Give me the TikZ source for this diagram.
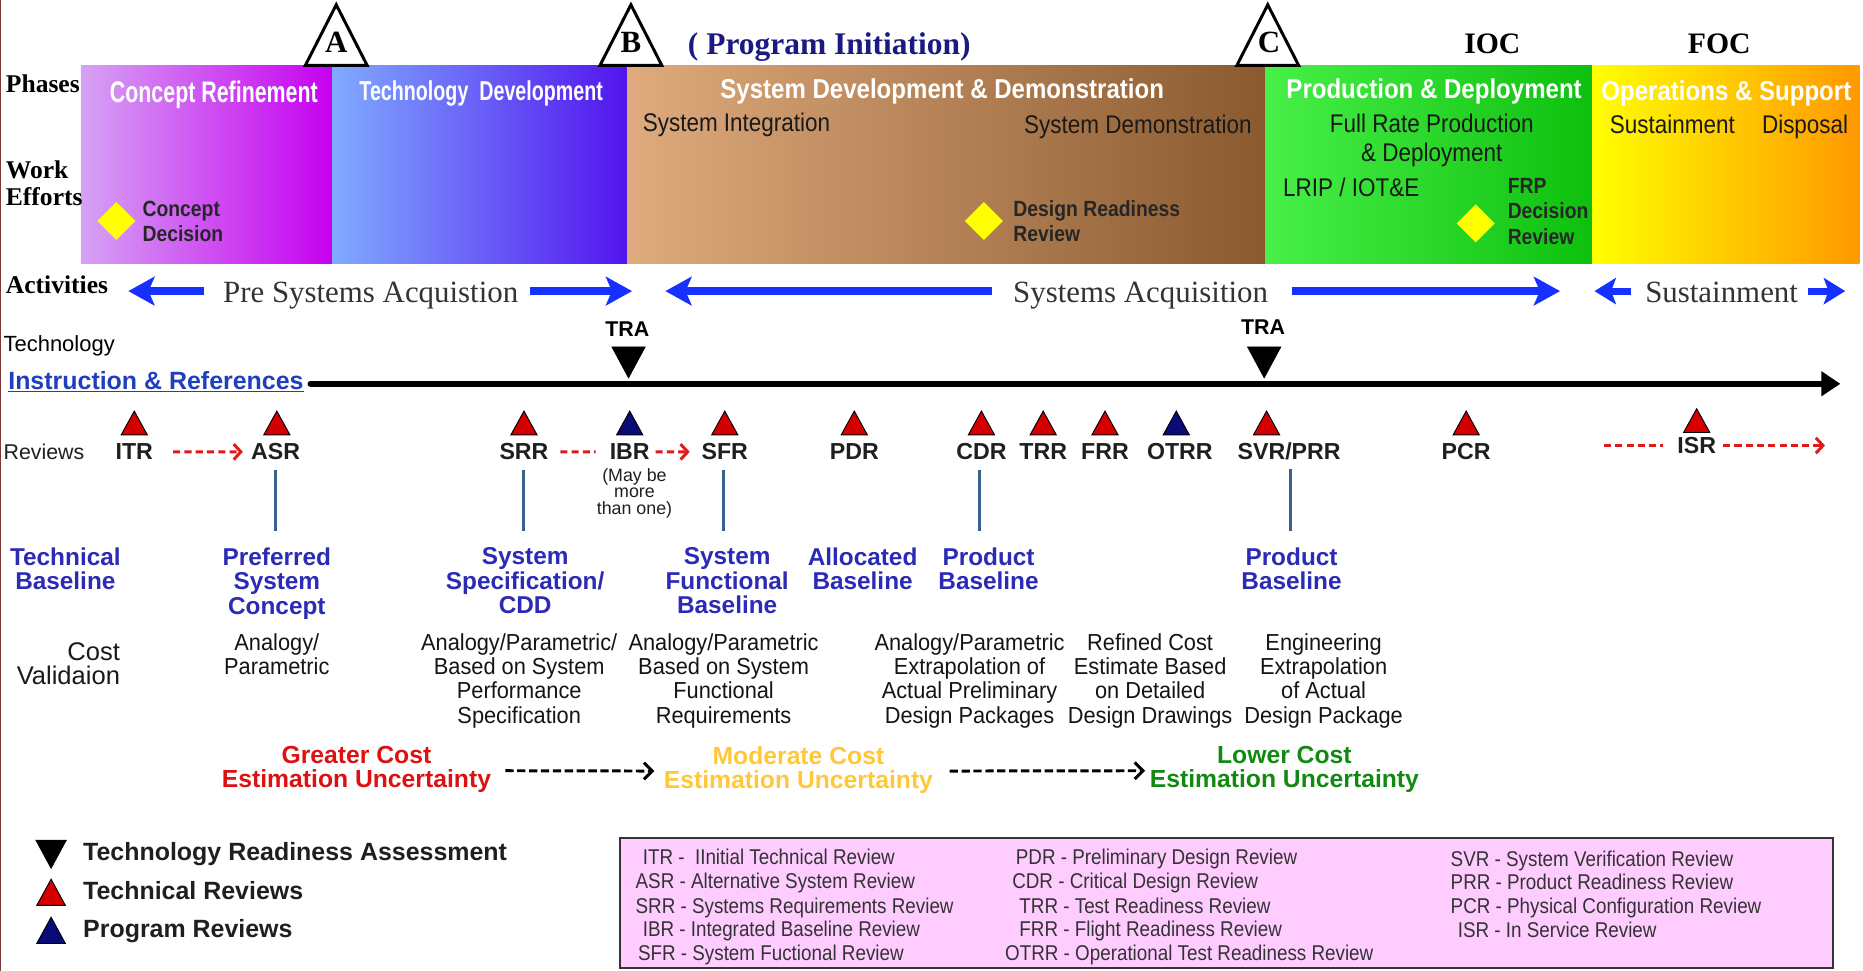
\documentclass[tikz,border=0pt]{standalone}
\usepackage{fontspec}
\setmainfont{Liberation Serif}
\setsansfont{Liberation Sans}
\newfontfamily\nar[FakeStretch=0.88]{Liberation Sans}
\newfontfamily\narm[FakeStretch=0.94]{Liberation Sans}
\newfontfamily\narx[FakeStretch=0.72]{Liberation Sans}
\usetikzlibrary{arrows.meta,shapes.geometric}
\definecolor{crL}{HTML}{D6A2F4}
\definecolor{crR}{HTML}{C600F0}
\definecolor{tdL}{HTML}{80AAFF}
\definecolor{tdR}{HTML}{5214EE}
\definecolor{sdL}{HTML}{DEAA7E}
\definecolor{sdR}{HTML}{8A5A2E}
\definecolor{pdL}{HTML}{48F048}
\definecolor{pdR}{HTML}{0EC00E}
\definecolor{osL}{HTML}{FFFF00}
\definecolor{osR}{HTML}{FF9800}
\definecolor{dyellow}{HTML}{FFFF00}
\definecolor{actblue}{HTML}{1530FF}
\definecolor{baseblue}{HTML}{2B2BB5}
\definecolor{techred}{HTML}{D40000}
\definecolor{progblue}{HTML}{0A0A78}
\definecolor{pinavy}{HTML}{1A1A80}
\definecolor{linkblue}{HTML}{1F3FC0}
\definecolor{vline}{HTML}{3A6090}
\definecolor{dashred}{HTML}{E01A1A}
\definecolor{greatred}{HTML}{DD1111}
\definecolor{modyel}{HTML}{FFC83A}
\definecolor{lowgreen}{HTML}{128A12}
\definecolor{pinkbox}{HTML}{FFCCFF}
\definecolor{edgeline}{HTML}{7A3A3A}
\newcommand\fsz[2]{\fontsize{#1}{#2}\selectfont}
\newcommand\revtri[3]{\filldraw[fill=#2,draw=black,line width=0.8pt] (#1-11,#3) -- (#1+11,#3) -- (#1,#3-20) -- cycle;}
\newcommand\tradown[3]{\filldraw[fill=black,draw=black,line width=0.6pt] (#1-#3,#2) -- (#1+#3,#2) -- (#1,#2+2*#3-2) -- cycle;}
\newcommand\msdelta[1]{\filldraw[fill=white,draw=black,line width=2.5pt,line join=miter] (#1-26,55) -- (#1+26,55) -- (#1,4) -- cycle;}
\tikzset{
  every node/.style={inner sep=0pt,outer sep=0pt},
  phasebox/.style={minimum height=167pt,draw=none},
  phasetitle/.style={text=white,font=\nar\bfseries\fsz{23}{26},anchor=base},
  workeff/.style={text=black!90,font=\nar\fsz{21.5}{24}},
  dmd/.style={diamond,fill=dyellow,minimum width=32pt,minimum height=32pt},
  dmdlabel/.style={text=black!85,font=\nar\bfseries\fsz{18.5}{21},align=left,anchor=north west},
  rowhead/.style={font=\bfseries\fsz{21.5}{23},anchor=base west},
  mslet/.style={font=\bfseries\fsz{26}{28},anchor=base},
  acttext/.style={font=\fsz{26}{28},text=black!80,anchor=base},
  barrow/.style={draw=actblue,line width=7pt,-{Stealth[length=22pt,width=24pt,inset=5pt]}},
  mainline/.style={draw=black,line width=5.5pt,line cap=round,-{Triangle[length=16pt,width=20pt]}},
  revlabel/.style={font=\sffamily\bfseries\fsz{19.5}{22},text=black!88,anchor=base},
  rdash/.style={draw=dashred,line width=2.5pt,dash pattern=on 6pt off 3.5pt},
  rdarr/.style={rdash,-{Straight Barb[length=6pt,width=13pt]}},
  kdarr/.style={draw=black,line width=2.5pt,dash pattern=on 7pt off 3pt,-{Straight Barb[length=7pt,width=14pt]}},
  vln/.style={draw=vline,line width=2.5pt},
  baseline/.style={font=\sffamily\bfseries\fsz{20.5}{20.5},text=baseblue,align=center,anchor=north},
  costtxt/.style={font=\narm\fsz{19.5}{20.5},text=black!92,align=center,anchor=north},
  uncert/.style={font=\sffamily\bfseries\fsz{20.8}{20.5},align=center,anchor=north},
  legtxt/.style={font=\sffamily\bfseries\fsz{21}{22},text=black!88,anchor=base west},
  boxtxt/.style={font=\nar\fsz{18}{20},text=black!80,anchor=base west}
}
\begin{document}
\begin{tikzpicture}[x=1pt,y=-1pt]
\useasboundingbox (0,0) rectangle (1568,817);
\draw[draw=edgeline,line width=1.2pt] (0.6,0) -- (0.6,817);

% ---------- phase bar ----------
\node[phasebox,minimum width=212pt,left color=crL,right color=crR] (cr) at (174,138.5) {};
\node[phasebox,minimum width=248pt,left color=tdL,right color=tdR] (td) at (404,138.5) {};
\node[phasebox,minimum width=537pt,left color=sdL,right color=sdR] (sd) at (796.5,138.5) {};
\node[phasebox,minimum width=275pt,left color=pdL,right color=pdR] (pd) at (1202.5,138.5) {};
\node[phasebox,minimum width=225pt,left color=osL,right color=osR] (os) at (1452.5,138.5) {};

% milestones
\msdelta{283}
\msdelta{531}
\msdelta{1067}
\node[mslet] (msA) at (283,44) {A};
\node[mslet] (msB) at (531,44) {B};
\node[mslet] (msC) at (1068,44) {C};
\node[font=\bfseries\fsz{26.5}{28},text=pinavy,anchor=base] (pinit) at (698,46) {( Program Initiation)};
\node[font=\bfseries\fsz{25}{27},anchor=base] (ioc) at (1256,45) {IOC};
\node[font=\bfseries\fsz{25}{27},anchor=base] (foc) at (1447,45) {FOC};

% row headers
\node[rowhead] (phases) at (5,78) {Phases};
\node[font=\bfseries\fsz{21.5}{23},align=left,anchor=north west] (work) at (5,135) {Work\\Efforts};
\node[rowhead] (activities) at (5,247) {Activities};

% phase titles
\node[phasetitle,font=\narx\bfseries\fsz{25}{27}] (crt) at (180,86) {Concept Refinement};
\node[phasetitle,font=\narx\bfseries\fsz{23}{26}] (tdt) at (405,85) {Technology\ \ Development};
\node[phasetitle] (sdt) at (793,83) {System Development \& Demonstration};
\node[phasetitle] (pdt) at (1207,83) {Production \& Deployment};
\node[phasetitle] (ost) at (1453,85) {Operations \& Support};

% work efforts
\node[workeff,anchor=base west] (sint) at (541,111) {System Integration};
\node[workeff,anchor=base west] (sdem) at (862,112) {System Demonstration};
\node[workeff,align=center,anchor=north] (frp) at (1205,96) {Full Rate Production\\\& Deployment};
\node[workeff,anchor=base west] (lrip) at (1080,165) {LRIP / IOT\&E};
\node[workeff,anchor=base west] (sus) at (1355,112) {Sustainment};
\node[workeff,anchor=base west] (disp) at (1483,112) {Disposal};

% decision diamonds
\node[dmd] (dcd) at (98,186) {};
\node[dmdlabel] (dcdl) at (120,169) {Concept\\Decision};
\node[dmd] (ddr) at (828,186) {};
\node[dmdlabel] (ddrl) at (853,169) {Design Readiness\\Review};
\node[dmd] (dfrp) at (1242,188) {};
\node[dmdlabel,font=\nar\bfseries\fsz{18.5}{21.5}] (dfrpl) at (1269,150) {FRP\\Decision\\Review};

% ---------- activities ----------
\node[acttext] (presys) at (312,255) {Pre Systems Acquistion};
\node[acttext] (sysacq) at (960,255) {Systems Acquisition};
\node[acttext] (susact) at (1449,255) {Sustainment};
\coordinate (aL1) at (108,245);
\coordinate (aR1) at (532,245);
\coordinate (aL2) at (560,245);
\coordinate (aR2) at (1313,245);
\coordinate (aL3) at (1342,245);
\coordinate (aR3) at (1553,245);
\draw[barrow] ([xshift=-16pt]presys.west |- aL1) -- (aL1);
\draw[barrow] ([xshift=10pt]presys.east |- aR1) -- (aR1);
\draw[barrow] ([xshift=-18pt]sysacq.west |- aL2) -- (aL2);
\draw[barrow] ([xshift=20pt]sysacq.east |- aR2) -- (aR2);
\draw[barrow,line width=6pt,-{Stealth[length=18pt,width=22pt,inset=4pt]}] ([xshift=-12pt]susact.west |- aL3) -- (aL3);
\draw[barrow,line width=6pt,-{Stealth[length=18pt,width=22pt,inset=4pt]}] ([xshift=8pt]susact.east |- aR3) -- (aR3);

% ---------- technology ----------
\node[font=\sffamily\fsz{18.5}{19},anchor=base west] (tech) at (3,296) {Technology};
\node[font=\sffamily\bfseries\fsz{18}{20},anchor=base] (tra1) at (528,283.5) {TRA};
\node[font=\sffamily\bfseries\fsz{18}{20},anchor=base] (tra2) at (1063,281.5) {TRA};
\tradown{529}{292}{14}
\tradown{1064}{292}{14}
\node[font=\sffamily\bfseries\fsz{21}{22},text=linkblue,anchor=base west] (instr) at (7,328) {\underline{Instruction \& References}};
\coordinate (mainEnd) at (1549,323);
\draw[mainline] ([xshift=6pt]instr.east |- mainEnd) -- (mainEnd);

% ---------- reviews ----------
\node[font=\sffamily\fsz{18}{20},text=black!88,anchor=base west] (reviews) at (3,386.5) {Reviews};
\revtri{113}{techred}{366}
\revtri{233}{techred}{366}
\revtri{441}{techred}{366}
\revtri{530}{progblue}{366}
\revtri{610}{techred}{366}
\revtri{719}{techred}{366}
\revtri{826}{techred}{366}
\revtri{878}{techred}{366}
\revtri{930}{techred}{366}
\revtri{990}{progblue}{366}
\revtri{1066}{techred}{366}
\revtri{1234}{techred}{366}
\revtri{1428}{techred}{364}
\node[revlabel] (itr) at (113,387) {ITR};
\node[revlabel] (asr) at (232,387) {ASR};
\node[revlabel] (srr) at (441,387) {SRR};
\node[revlabel] (ibr) at (530,387) {IBR};
\node[revlabel] (sfr) at (610,387) {SFR};
\node[revlabel] (pdr) at (719,387) {PDR};
\node[revlabel] (cdr) at (826,387) {CDR};
\node[revlabel] (trr) at (878,387) {TRR};
\node[revlabel] (frr) at (930,387) {FRR};
\node[revlabel] (otrr) at (993,387) {OTRR};
\node[revlabel] (svr) at (1085,387) {SVR/PRR};
\node[revlabel] (pcr) at (1234,387) {PCR};
\node[revlabel] (isr) at (1428,382) {ISR};
\node[font=\sffamily\fsz{15}{14},text=black!88,align=center,anchor=north] (maybe) at (534,394) {(May be\\more\\than one)};
\draw[rdarr] ([xshift=17pt]itr.east) -- ([xshift=-7pt]asr.west);
\draw[rdash] ([xshift=10pt]srr.east) -- ([xshift=-12pt]ibr.west);
\draw[rdarr] ([xshift=5pt]ibr.east) -- ([xshift=-10pt]sfr.west);
\coordinate (isrL) at (1350,375);
\coordinate (isrR) at (1536,375);
\draw[rdash] (isrL) -- ([xshift=-12pt]isr.west |- isrL);
\draw[rdarr] ([xshift=6pt]isr.east |- isrR) -- (isrR);

% ---------- technical baselines ----------
\node[baseline] (tb) at (55,461) {Technical\\Baseline};
\node[baseline] (psc) at (233,461) {Preferred\\System\\Concept};
\node[baseline] (ssc) at (442,461) {System\\Specification/\\CDD};
\node[baseline] (sfb) at (612,461) {System\\Functional\\Baseline};
\node[baseline] (ab) at (726,461) {Allocated\\Baseline};
\node[baseline] (pb1) at (832,461) {Product\\Baseline};
\node[baseline] (pb2) at (1087,461) {Product\\Baseline};
\draw[vln,shorten >=14pt] (asr.center) ++(0,15) -- (asr |- psc.north);
\draw[vln,shorten >=14pt] (srr.center) ++(0,15) -- (srr |- ssc.north);
\draw[vln,shorten >=14pt] (sfr.center) ++(-1,15) -- ([xshift=-1pt]sfr |- sfb.north);
\draw[vln,shorten >=14pt] (cdr.center) ++(-2,15) -- ([xshift=-2pt]cdr |- pb1.north);
\draw[vln,shorten >=14pt] (svr.center) ++(1,15) -- ([xshift=1pt]svr |- pb2.north);

% ---------- cost validation ----------
\node[font=\sffamily\fsz{21.5}{20},text=black!90,align=right,anchor=north east] (costv) at (101,541) {Cost\\Validaion};
\node[costtxt] (c1) at (233,533) {Analogy/\\Parametric};
\node[costtxt] (c2) at (437,533) {Analogy/Parametric/\\Based on System\\Performance\\Specification};
\node[costtxt] (c3) at (609,533) {Analogy/Parametric\\Based on System\\Functional\\Requirements};
\node[costtxt] (c4) at (816,533) {Analogy/Parametric\\Extrapolation of\\Actual Preliminary\\Design Packages};
\node[costtxt] (c5) at (968,533) {Refined Cost\\Estimate Based\\on Detailed\\Design Drawings};
\node[costtxt] (c6) at (1114,533) {Engineering\\Extrapolation\\of Actual\\Design Package};

% ---------- uncertainty ----------
\node[uncert,text=greatred] (greater) at (300,628) {Greater Cost\\Estimation Uncertainty};
\node[uncert,text=modyel] (moderate) at (672,628) {Moderate Cost\\Estimation Uncertainty};
\node[uncert,text=lowgreen] (lower) at (1081,628) {Lower Cost\\Estimation Uncertainty};
\draw[kdarr] ([xshift=12pt,yshift=-1pt]greater.east) -- ([xshift=-8pt,yshift=-1pt]moderate.west);
\draw[kdarr] ([xshift=14pt,yshift=-1pt]moderate.east) -- ([xshift=-4pt,yshift=-1pt]lower.west);

% ---------- legend ----------
\filldraw[fill=black,draw=black] (30,707) -- (56,707) -- (43,731) -- cycle;
\filldraw[fill=techred,draw=black,line width=0.8pt] (31,762) -- (55,762) -- (43,740) -- cycle;
\filldraw[fill=progblue,draw=black,line width=0.8pt] (31,794) -- (55,794) -- (43,772) -- cycle;
\node[legtxt] (ltra) at (70,724) {Technology Readiness Assessment};
\node[legtxt] (ltech) at (70,757) {Technical Reviews};
\node[legtxt] (lprog) at (70,789) {Program Reviews};

\node[draw=black!80,line width=1.5pt,fill=pinkbox,minimum width=1021pt,minimum height=110pt] (abbr) at (1032.5,760) {};
\node[boxtxt] (b1) at (541,728) {ITR -\ \ IInitial Technical Review};
\node[boxtxt] (b2) at (535,748) {ASR - Alternative System Review};
\node[boxtxt] (b3) at (535,769) {SRR - Systems Requirements Review};
\node[boxtxt] (b4) at (541,788) {IBR - Integrated Baseline Review};
\node[boxtxt] (b5) at (537,808) {SFR - System Fuctional Review};
\node[boxtxt] (b6) at (855,728) {PDR - Preliminary Design Review};
\node[boxtxt] (b7) at (852,748) {CDR - Critical Design Review};
\node[boxtxt] (b8) at (858,769) {TRR - Test Readiness Review};
\node[boxtxt] (b9) at (858,788) {FRR - Flight Readiness Review};
\node[boxtxt] (b10) at (846,808) {OTRR - Operational Test Readiness Review};
\node[boxtxt] (b11) at (1221,729) {SVR - System Verification Review};
\node[boxtxt] (b12) at (1221,749) {PRR - Product Readiness Review};
\node[boxtxt] (b13) at (1221,769) {PCR - Physical Configuration Review};
\node[boxtxt] (b14) at (1227,789) {ISR - In Service Review};
\end{tikzpicture}
\end{document}
